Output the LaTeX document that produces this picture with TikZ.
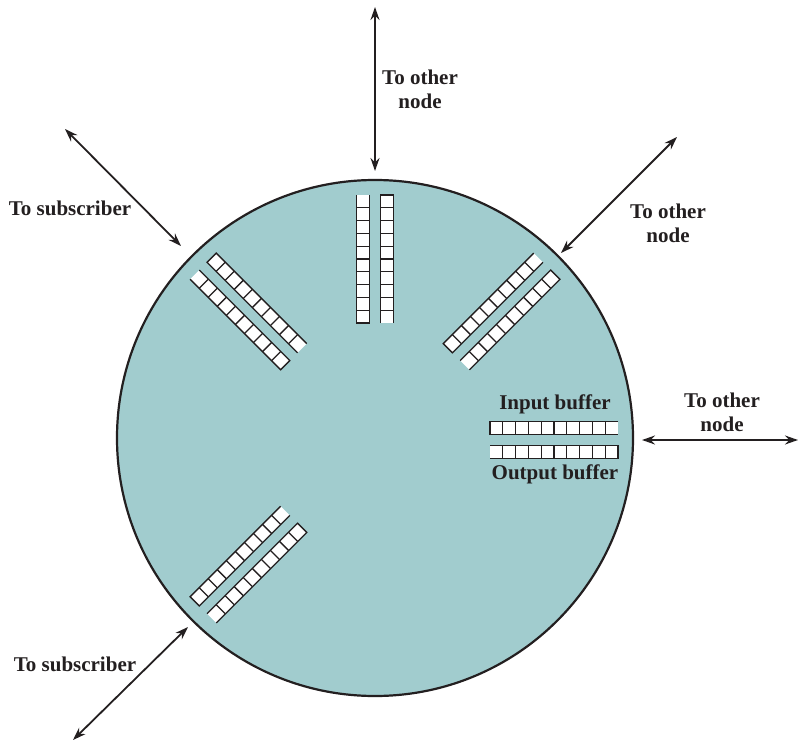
\documentclass[tikz,border=0pt]{standalone}
\usepackage{fontspec}
\setmainfont{Liberation Serif}
\usetikzlibrary{arrows.meta}
\definecolor{ringfill}{RGB}{161,204,206}
\definecolor{ink}{RGB}{35,31,32}
\newcommand\bufpair[2][0pt]{%
  \begin{scope}[shift={(375,438)}, rotate=#2, yshift=#1]
    \fill[white] (115,-18.5) rectangle (243,-5.5);
    \fill[white] (115,5.5) rectangle (243,18.5);
    \draw[cellline] (243,-18.5) -- (115,-18.5) -- (115,-5.5) -- (243,-5.5);
    \draw[cellline] (115,5.5) -- (243,5.5) -- (243,18.5) -- (115,18.5);
    \foreach \k in {1,...,9}{
      \draw[cellline] ({115+12.8*\k},-18.5) -- ++(0,13);
      \draw[cellline] ({115+12.8*\k},5.5) -- ++(0,13);
    }
  \end{scope}}
\begin{document}
\begin{tikzpicture}[x=1pt,y=-1pt,
  lbl/.style={font=\bfseries\fontsize{21}{24}\selectfont, text=ink, align=center, inner sep=0pt},
  link/.style={{Stealth[length=13pt,width=9pt]}-{Stealth[length=13pt,width=9pt]}, line width=1.8pt, draw=ink},
  cellline/.style={draw=ink, line width=1.3pt}]
\useasboundingbox (0,0) rectangle (798,741);
\node[circle, fill=ringfill, draw=ink, line width=2.2pt, minimum size=516pt, inner sep=0pt] (ring) at (375,438) {};
\bufpair{90}
\bufpair{45}
\bufpair{135}
\bufpair{225}
\bufpair[-2pt]{0}
% connectors
\coordinate (t1) at (375,7);   \coordinate (t2) at (375,171);
\coordinate (ur1) at (677,137); \coordinate (ur2) at (561,253);
\coordinate (r1) at (642,440);  \coordinate (r2) at (798,440);
\coordinate (ul1) at (65,129);  \coordinate (ul2) at (181,246);
\coordinate (ll1) at (73,740);  \coordinate (ll2) at (188,627);
\draw[link] (t1) -- (t2);
\draw[link] (ur1) -- (ur2);
\draw[link] (r1) -- (r2);
\draw[link] (ul1) -- (ul2);
\draw[link] (ll1) -- (ll2);
% labels
\node[lbl] (lt) at (420,89) {To other\\node};
\node[lbl] (lur) at (668,223) {To other\\node};
\node[lbl] (lr) at (722,412) {To other\\node};
\node[lbl] (lsu) at (70,208) {To subscriber};
\node[lbl] (lsl) at (75,664) {To subscriber};
\node[lbl] (lin) at (555,404) {Input buffer};
\node[lbl] (lout) at (555,474) {Output buffer};
\end{tikzpicture}
\end{document}
